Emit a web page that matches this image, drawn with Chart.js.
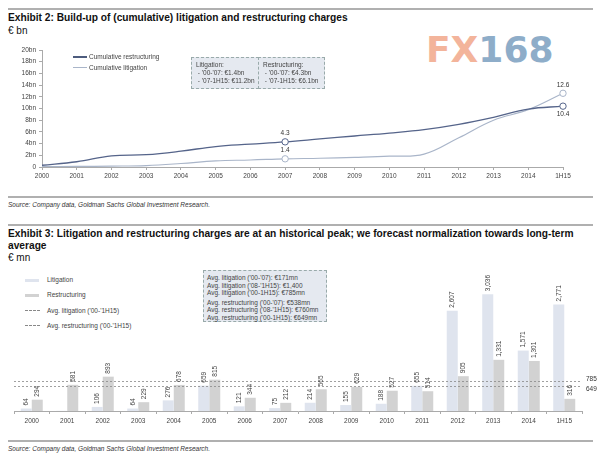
<!DOCTYPE html>
<html><head><meta charset="utf-8">
<script src="https://cdn.jsdelivr.net/npm/chart.js@4"></script>
<style>
body{margin:0;width:600px;height:459px;position:relative;background:#fff;font-family:"Liberation Sans",Arial,sans-serif;color:#222;overflow:hidden}
.rule{position:absolute;left:8px;width:585px;height:2px;background:#b0b0b0}
.title{position:absolute;left:8px;font-weight:bold;font-size:10.2px;color:#111;white-space:nowrap;line-height:12px;transform-origin:0 0}
.unit{position:absolute;left:8px;font-size:10px;color:#111}
.src{position:absolute;left:8px;font-style:italic;font-size:6.5px;color:#333;white-space:nowrap}
.box{position:absolute;background:#e5e9f0;border:1px dashed #9aa;font-size:6.5px;color:#444;line-height:7.8px;box-sizing:border-box;white-space:nowrap}
.leg{position:absolute;font-size:6.5px;color:#444;white-space:nowrap;line-height:8px}
.sw{position:absolute}
.wm{position:absolute;left:426px;top:29px;font-size:36px;font-weight:bold;letter-spacing:0px;font-family:"DejaVu Sans",sans-serif}
.cv{position:absolute;left:0}
</style></head>
<body>
<div class="rule" style="top:8px"></div>
<div class="title" style="top:12px">Exhibit 2: Build-up of (cumulative) litigation and restructuring charges</div>
<div class="unit" style="top:25px">€ bn</div>
<div class="wm"><span style="color:#f3b49b">FX</span><span style="color:#8eadc9">168</span></div>

<canvas id="c1" class="cv" style="top:40px" width="600" height="150"></canvas>

<div class="sw" style="left:73px;top:56px;width:14px;height:1.5px;background:#4d5c7e"></div>
<div class="leg" style="left:89px;top:53px">Cumulative restructuring</div>
<div class="sw" style="left:73px;top:67px;width:14px;height:1.2px;background:#a9b5c9"></div>
<div class="leg" style="left:89px;top:64px">Cumulative litigation</div>

<div class="box" style="left:191px;top:57px;width:68px;height:32px;padding:3px 0 0 4px">Litigation:<br>&nbsp;- '00-'07: €1.4bn<br>&nbsp;- '07-1H15: €11.2bn</div>
<div class="box" style="left:258px;top:57px;width:67px;height:32px;padding:3px 0 0 4px">Restructuring:<br>&nbsp;- '00-'07: €4.3bn<br>&nbsp;- '07-1H15: €6.1bn</div>

<div class="rule" style="top:196px"></div>
<div class="src" style="top:201px">Source: Company data, Goldman Sachs Global Investment Research.</div>

<div class="rule" style="top:224px"></div>
<div class="title" style="top:228px">Exhibit 3: Litigation and restructuring charges are at an historical peak; we forecast normalization towards long-term<br>average</div>
<div class="unit" style="top:252px">€ mn</div>

<div class="sw" style="left:25px;top:279px;width:14px;height:3px;background:#dfe4ee"></div>
<div class="leg" style="left:47px;top:276px">Litigation</div>
<div class="sw" style="left:25px;top:294px;width:14px;height:3px;background:#d2d2d2"></div>
<div class="leg" style="left:47px;top:291px">Restructuring</div>
<div class="sw" style="left:25px;top:310px;width:15px;height:0;border-top:1px dashed #888"></div>
<div class="leg" style="left:47px;top:307px">Avg. litigation ('00-'1H15)</div>
<div class="sw" style="left:25px;top:325px;width:15px;height:0;border-top:1px dashed #888"></div>
<div class="leg" style="left:47px;top:322px">Avg. restructuring ('00-'1H15)</div>

<div class="box" style="left:203px;top:270px;width:124px;height:52px;padding:3px 0 0 3px;line-height:7.6px">Avg. litigation ('00-'07): €171mn<br>Avg. litigation ('08-'1H15): €1,400<br>Avg. litigation ('00-1H15): €785mn<div style="height:2px"></div>Avg. restructuring ('00-'07): €538mn<br>Avg. restructuring ('08-'1H15): €760mn<br>Avg. restructuring ('00-1H15): €649mn</div>

<canvas id="c2" class="cv" style="top:255px" width="600" height="180"></canvas>

<div class="rule" style="top:440px"></div>
<div class="src" style="top:445px">Source: Company data, Goldman Sachs Global Investment Research.</div>

<script>
const FONT = '"Liberation Sans", Arial, sans-serif';

// ---- Exhibit 2 data (€ bn, cumulative) ----
const years = ['2000','2001','2002','2003','2004','2005','2006','2007','2008','2009','2010','2011','2012','2013','2014','1H15'];
const cumRestructuring = [0.3, 0.9, 1.9, 2.1, 2.7, 3.5, 3.9, 4.3, 4.8, 5.3, 5.8, 6.4, 7.3, 8.5, 9.9, 10.4];
const cumLitigation    = [0.05, 0.1, 0.15, 0.25, 0.6, 1.05, 1.2, 1.4, 1.5, 1.65, 1.85, 2.2, 5.0, 8.0, 9.8, 12.6];
const markedIdx = [7, 15];
const yTicks1 = [0, 2, 4, 6, 8, 10, 12, 14, 16, 18, 20];

// ---- Exhibit 3 data (€ mn, annual) ----
const litigation    = [64, 4, 106, 64, 276, 659, 121, 75, 214, 155, 188, 655, 2607, 3036, 1571, 2771];
const restructuring = [294, 681, 893, 229, 678, 815, 344, 212, 565, 629, 527, 514, 905, 1331, 1301, 316];
const avgValues = [785, 649];

const pointLabels = {
  id: 'pointLabels',
  afterDatasetsDraw(chart) {
    const ctx = chart.ctx;
    ctx.save();
    ctx.font = '6.5px ' + FONT;
    ctx.fillStyle = '#333';
    ctx.textAlign = 'center';
    chart.data.datasets.forEach((ds, di) => {
      const meta = chart.getDatasetMeta(di);
      markedIdx.forEach(i => {
        const p = meta.data[i];
        const below = (di === 0 && i === 15);
        ctx.textBaseline = below ? 'top' : 'bottom';
        ctx.fillText(ds.data[i].toFixed(1), p.x, below ? p.y + 5 : p.y - 5);
      });
    });
    ctx.restore();
  }
};

new Chart(document.getElementById('c1'), {
  type: 'line',
  data: {
    labels: years,
    datasets: [
      { label: 'Cumulative restructuring', data: cumRestructuring, borderColor: '#55648a', borderWidth: 1.3,
        tension: 0.4, pointRadius: c => markedIdx.includes(c.dataIndex) ? 3.2 : 0,
        pointBackgroundColor: '#fff', pointBorderColor: '#55648a', pointBorderWidth: 1 },
      { label: 'Cumulative litigation', data: cumLitigation, borderColor: '#a9b5c9', borderWidth: 1.2,
        tension: 0.4, pointRadius: c => markedIdx.includes(c.dataIndex) ? 3.2 : 0,
        pointBackgroundColor: '#fff', pointBorderColor: '#a9b5c9', pointBorderWidth: 1 }
    ]
  },
  options: {
    responsive: false, animation: false,
    layout: { padding: { left: 0, right: 37, top: 10, bottom: 0 } },
    plugins: { legend: { display: false }, tooltip: { enabled: false } },
    scales: {
      x: {
        offset: false,
        grid: { drawOnChartArea: false, tickLength: 3, color: '#aaa' },
        border: { color: '#aaa' },
        ticks: { font: { size: 6.5, family: FONT }, color: '#444', padding: 2, maxRotation: 0, autoSkip: false },
        afterFit(s) { s.height = 23; }
      },
      y: {
        min: 0, max: 20,
        afterBuildTicks(s) { s.ticks = yTicks1.map(v => ({ value: v })); },
        grid: { drawOnChartArea: false, tickLength: 3, color: '#aaa' },
        border: { color: '#aaa' },
        ticks: { font: { size: 6.5, family: FONT }, color: '#444', padding: 3,
                 callback: v => v === 0 ? '0' : v + 'bn' },
        afterFit(s) { s.width = 42; }
      }
    }
  },
  plugins: [pointLabels]
});

const barExtras = {
  id: 'barExtras',
  afterDatasetsDraw(chart) {
    const ctx = chart.ctx;
    const area = chart.chartArea;
    const y = chart.scales.y;
    ctx.save();
    ctx.strokeStyle = '#888';
    ctx.lineWidth = 0.8;
    ctx.setLineDash([2, 2]);
    ctx.font = '6.5px ' + FONT;
    ctx.fillStyle = '#333';
    avgValues.forEach((v, k) => {
      const py = Math.round(y.getPixelForValue(v)) + 0.5;
      ctx.beginPath(); ctx.moveTo(area.left, py); ctx.lineTo(area.right, py); ctx.stroke();
      ctx.textAlign = 'left'; ctx.textBaseline = k === 0 ? 'bottom' : 'top';
      ctx.fillText(String(v), area.right + 4, k === 0 ? py + 1 : py - 1);
    });
    ctx.setLineDash([]);
    ctx.fillStyle = '#444';
    chart.data.datasets.forEach((ds, di) => {
      const meta = chart.getDatasetMeta(di);
      meta.data.forEach((bar, i) => {
        const v = ds.data[i];
        if (v < 10) return;
        ctx.save();
        ctx.translate(bar.x, bar.y - 3);
        ctx.rotate(-Math.PI / 2);
        ctx.textAlign = 'left'; ctx.textBaseline = 'middle';
        ctx.fillText(v.toLocaleString('en-US'), 0, 0);
        ctx.restore();
      });
    });
    ctx.restore();
  }
};

new Chart(document.getElementById('c2'), {
  type: 'bar',
  data: {
    labels: years,
    datasets: [
      { label: 'Litigation', data: litigation, backgroundColor: '#dfe4ee', categoryPercentage: 0.62, barPercentage: 1 },
      { label: 'Restructuring', data: restructuring, backgroundColor: '#d2d2d2', categoryPercentage: 0.62, barPercentage: 1 }
    ]
  },
  options: {
    responsive: false, animation: false,
    layout: { padding: { left: 14, right: 18, top: 5, bottom: 0 } },
    plugins: { legend: { display: false }, tooltip: { enabled: false } },
    scales: {
      x: {
        grid: { drawOnChartArea: false, tickLength: 3, color: '#aaa' },
        border: { color: '#aaa' },
        ticks: { font: { size: 6.5, family: FONT }, color: '#444', padding: 3, maxRotation: 0, autoSkip: false },
        afterFit(s) { s.height = 24; }
      },
      y: { display: false, min: 0, max: 3926 }
    }
  },
  plugins: [barExtras]
});
</script>
</body></html>
